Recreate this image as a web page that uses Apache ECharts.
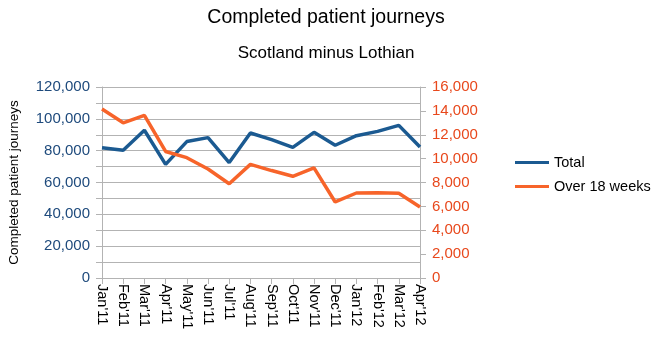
<!DOCTYPE html>
<html><head><meta charset="utf-8">
<script src="https://cdn.jsdelivr.net/npm/echarts@6/dist/echarts.min.js"></script>
<style>html,body{margin:0;padding:0;background:#fff}#c{width:652px;height:351px}</style>
</head><body><div id="c"></div>
<script>
const categories = ["Jan'11","Feb'11","Mar'11","Apr'11","May'11","Jun'11","Jul'11","Aug'11","Sep'11","Oct'11","Nov'11","Dec'11","Jan'12","Feb'12","Mar'12","Apr'12"];
const totalValues = [81900,80200,92800,71400,85700,88200,72500,91100,86900,82100,91500,83400,89400,92100,95900,82300];
const over18Values = [14160,13000,13630,10600,10080,9130,7900,9520,9000,8520,9220,6370,7120,7150,7100,5950];
const seriesNames = ["Total","Over 18 weeks"];
const FONT = "'Liberation Sans', Arial, sans-serif";
const blue = '#1b5a91', orange = '#f7642a';
const chart = echarts.init(document.getElementById('c'));
chart.setOption({
  animation:false,
  title:[
    {text:'Completed patient journeys',left:'center',top:3,textStyle:{fontFamily:FONT,fontSize:19.5,fontWeight:'normal',color:'#000'}},
    {text:'Scotland minus Lothian',left:'center',top:40,textStyle:{fontFamily:FONT,fontSize:17,fontWeight:'normal',color:'#000'}}
  ],
  legend:{orient:'vertical',left:510,top:150,itemWidth:34,itemHeight:3,itemGap:9,icon:'rect',
    textStyle:{fontFamily:FONT,fontSize:14.5,color:'#000'},data:seriesNames},
  grid:{left:102,right:232,top:87,bottom:73,containLabel:false},
  xAxis:{type:'category',data:categories,boundaryGap:false,
    axisLine:{lineStyle:{color:'#b3b3b3'}},
    axisTick:{show:true,alignWithLabel:true,length:6,lineStyle:{color:'#b3b3b3'}},
    axisLabel:{rotate:-90,interval:0,fontFamily:FONT,fontSize:14.5,color:'#000',margin:6}},
  yAxis:[
    {type:'value',min:0,max:120000,interval:10000,position:'left',
     name:'Completed patient journeys',nameLocation:'middle',nameRotate:90,nameGap:81,
     nameTextStyle:{fontFamily:FONT,fontSize:13.5,color:'#000'},
     axisLine:{show:true,lineStyle:{color:'#b3b3b3'}},
     axisTick:{show:true,length:6,lineStyle:{color:'#b3b3b3'}},
     splitLine:{show:true,lineStyle:{color:'#b3b3b3'}},
     axisLabel:{fontFamily:FONT,fontSize:15,color:'#1e4a7c',margin:12,
       formatter:v=> v%20000===0 ? v.toLocaleString('en-US') : ''}},
    {type:'value',min:0,max:16000,interval:2000,position:'right',
     axisLine:{show:true,lineStyle:{color:'#b3b3b3'}},
     axisTick:{show:true,length:6,lineStyle:{color:'#b3b3b3'}},
     splitLine:{show:false},
     axisLabel:{fontFamily:FONT,fontSize:15,color:'#e8481c',margin:12,
       formatter:v=>v.toLocaleString('en-US')}}
  ],
  series:[
    {name:seriesNames[0],type:'line',data:totalValues,yAxisIndex:0,showSymbol:false,symbol:'none',
     lineStyle:{color:blue,width:3.5},itemStyle:{color:blue}},
    {name:seriesNames[1],type:'line',data:over18Values,yAxisIndex:1,showSymbol:false,symbol:'none',
     lineStyle:{color:orange,width:3.5},itemStyle:{color:orange}}
  ]
});
</script></body></html>
